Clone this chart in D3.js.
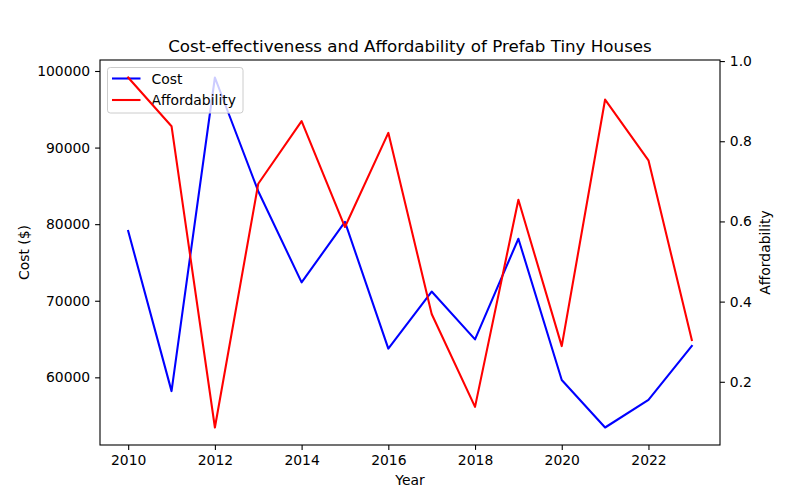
<!DOCTYPE html>
<html>
<head>
<meta charset="utf-8">
<script src="https://cdn.jsdelivr.net/npm/d3@7"></script>
<style>
  body { margin: 0; background: #fff; }
  text { font-family: "DejaVu Sans", sans-serif; fill: #000; }
</style>
</head>
<body>
<svg id="chart" width="800" height="500"></svg>
<script>
const years = [2010, 2011, 2012, 2013, 2014, 2015, 2016, 2017, 2018, 2019, 2020, 2021, 2022, 2023];
const cost = [79100, 58200, 99150, 84300, 72400, 80300, 63750, 71200, 64950, 78100, 59650, 53450, 57050, 64100];
const affordability = [0.959, 0.8375, 0.086, 0.694, 0.85, 0.586, 0.821, 0.369, 0.1375, 0.654, 0.289, 0.904, 0.7525, 0.304];
const xTicks = [2010, 2012, 2014, 2016, 2018, 2020, 2022];
const costTicks = [60000, 70000, 80000, 90000, 100000];
const affTicks = [0.2, 0.4, 0.6, 0.8, 1.0];

const svg = d3.select("#chart");
const L = 100, R = 720, T = 60, B = 445;

function padded(ext) {
  const m = (ext[1] - ext[0]) * 0.05;
  return [ext[0] - m, ext[1] + m];
}

const x = d3.scaleLinear().domain(padded(d3.extent(years))).range([L, R]);
const yL = d3.scaleLinear().domain(padded(d3.extent(cost))).range([B, T]);
const yR = d3.scaleLinear().domain(padded(d3.extent(affordability))).range([B, T]);

// Cost line (left axis)
const lineCost = d3.line().x((d, i) => x(years[i])).y(d => yL(d));
svg.append("path").datum(cost)
  .attr("d", lineCost).attr("fill", "none")
  .attr("stroke", "#0000ff").attr("stroke-width", 2.08)
  .attr("stroke-linejoin", "round").attr("stroke-linecap", "square");

// Legend (belongs to first axes, drawn before twin axes)
const lg = svg.append("g");
lg.append("rect").attr("x", 107.5).attr("y", 67.5).attr("width", 135.5).attr("height", 45.5)
  .attr("rx", 2.8).attr("fill", "#fff").attr("fill-opacity", 0.8)
  .attr("stroke", "#cccccc").attr("stroke-width", 1);
const legendItems = [["Cost", "#0000ff"], ["Affordability", "#ff0000"]];
legendItems.forEach((d, i) => {
  const cy = 78.5 + i * 21.5;
  lg.append("line").attr("x1", 112).attr("x2", 140.5).attr("y1", cy).attr("y2", cy)
    .attr("stroke", d[1]).attr("stroke-width", 2.08);
  lg.append("text").attr("x", 151.5).attr("y", cy + 5).attr("font-size", "13.9px").text(d[0]);
});

// Affordability line (right axis, on top)
const lineAff = d3.line().x((d, i) => x(years[i])).y(d => yR(d));
svg.append("path").datum(affordability)
  .attr("d", lineAff).attr("fill", "none")
  .attr("stroke", "#ff0000").attr("stroke-width", 2.08)
  .attr("stroke-linejoin", "round").attr("stroke-linecap", "square");

// Frame
svg.append("rect").attr("x", L).attr("y", T).attr("width", R - L).attr("height", B - T)
  .attr("fill", "none").attr("stroke", "#000").attr("stroke-width", 1.1);

// Axes
function styleAxis(g) {
  g.select(".domain").remove();
  g.selectAll(".tick line").attr("stroke", "#000").attr("stroke-width", 1.1);
  g.selectAll(".tick text").attr("font-size", "13.9px").attr("font-family", "DejaVu Sans, sans-serif").attr("fill", "#000");
}
svg.append("g").attr("transform", `translate(0,${B})`)
  .call(d3.axisBottom(x).tickValues(xTicks).tickFormat(d3.format("d")).tickSize(4.9).tickPadding(4.9))
  .call(styleAxis);
svg.append("g").attr("transform", `translate(${L},0)`)
  .call(d3.axisLeft(yL).tickValues(costTicks).tickFormat(d3.format("d")).tickSize(4.9).tickPadding(4.9))
  .call(styleAxis);
svg.append("g").attr("transform", `translate(${R},0)`)
  .call(d3.axisRight(yR).tickValues(affTicks).tickFormat(d3.format(".1f")).tickSize(4.9).tickPadding(4.9))
  .call(styleAxis);

// Labels
svg.append("text").attr("x", (L + R) / 2).attr("y", 52).attr("text-anchor", "middle")
  .attr("font-size", "16.7px").text("Cost-effectiveness and Affordability of Prefab Tiny Houses");
svg.append("text").attr("x", (L + R) / 2).attr("y", 485).attr("text-anchor", "middle")
  .attr("font-size", "13.9px").text("Year");
svg.append("text").attr("transform", `translate(29,${(T + B) / 2}) rotate(-90)`).attr("text-anchor", "middle")
  .attr("font-size", "13.9px").text("Cost ($)");
svg.append("text").attr("transform", `translate(770,${(T + B) / 2}) rotate(-90)`).attr("text-anchor", "middle")
  .attr("font-size", "13.9px").text("Affordability");
</script>
</body>
</html>
